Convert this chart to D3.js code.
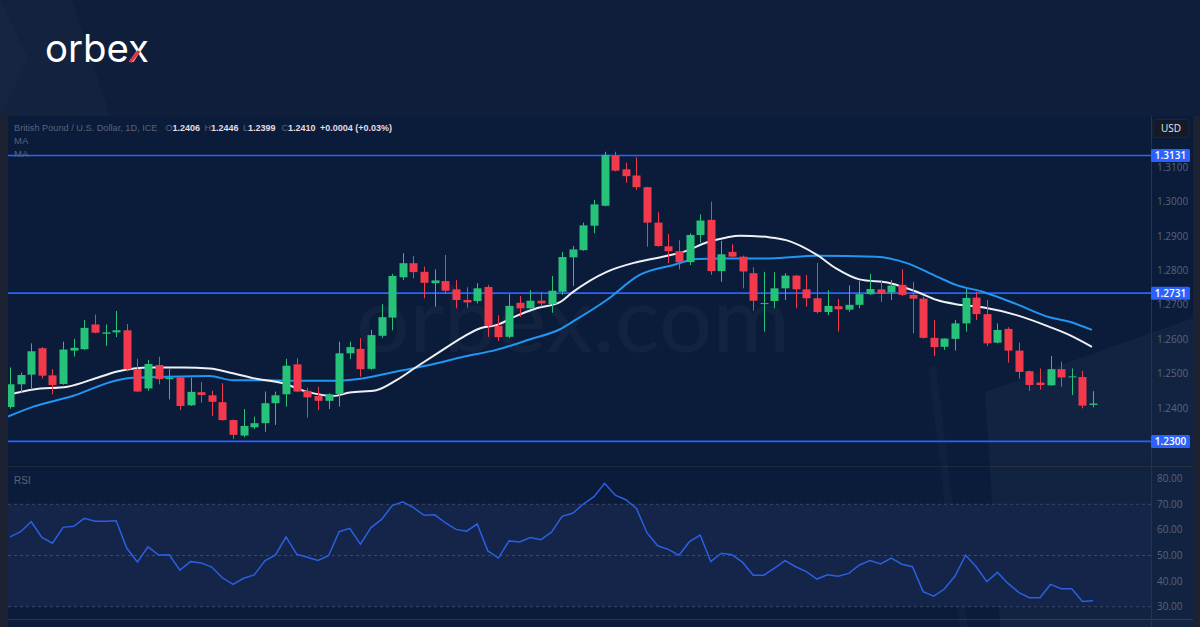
<!DOCTYPE html>
<html>
<head>
<meta charset="utf-8">
<script src="https://cdn.jsdelivr.net/npm/d3@7/dist/d3.min.js"></script>
<style>
  html, body { margin: 0; padding: 0; background: #0f1e3a; }
  svg { display: block; }
  text { font-family: "Open Sans", "DejaVu Sans", sans-serif; }
</style>
</head>
<body>
<svg id="chart" width="1200" height="627"></svg>
<script>
// ---------------- DATA ----------------
const opens  = [1.2400,1.2466,1.2494,1.2571,1.2492,1.2467,1.2564,1.2568,1.2640,1.2613,1.2617,1.2623,1.2510,1.2454,1.2522,1.2481,1.2486,1.2405,1.2443,1.2434,1.2414,1.2362,1.2317,1.2341,1.2353,1.2411,1.2437,1.2524,1.2447,1.2432,1.2418,1.2438,1.2556,1.2569,1.2511,1.2607,1.2660,1.2777,1.2818,1.2793,1.2760,1.2766,1.2742,1.2711,1.2708,1.2749,1.2636,1.2604,1.2703,1.2687,1.2709,1.2699,1.2735,1.2835,1.2856,1.2927,1.2985,1.3131,1.3091,1.3073,1.3039,1.2936,1.2867,1.2853,1.2821,1.2900,1.2944,1.2795,1.2851,1.2837,1.2789,1.2700,1.2708,1.2745,1.2782,1.2742,1.2716,1.2676,1.2693,1.2683,1.2697,1.2728,1.2742,1.2733,1.2755,1.2726,1.2715,1.2601,1.2575,1.2598,1.2643,1.2718,1.2670,1.2587,1.2627,1.2564,1.2504,1.2471,1.2463,1.2510,1.2487,1.2487,1.2406];
const highs  = [1.2515,1.2500,1.2585,1.2574,1.2510,1.2590,1.2598,1.2653,1.2669,1.2640,1.2679,1.2641,1.2540,1.2537,1.2546,1.2510,1.2488,1.2485,1.2472,1.2447,1.2469,1.2364,1.2394,1.2372,1.2445,1.2445,1.2540,1.2542,1.2456,1.2459,1.2440,1.2590,1.2590,1.2600,1.2624,1.2699,1.2787,1.2847,1.2839,1.2808,1.2800,1.2842,1.2769,1.2748,1.2760,1.2755,1.2667,1.2728,1.2723,1.2740,1.2735,1.2781,1.2851,1.2868,1.2936,1.3002,1.3142,1.3142,1.3110,1.3126,1.3040,1.2966,1.2903,1.2885,1.2905,1.2960,1.2997,1.2883,1.2873,1.2840,1.2806,1.2793,1.2792,1.2789,1.2784,1.2784,1.2819,1.2740,1.2714,1.2753,1.2766,1.2787,1.2769,1.2769,1.2800,1.2764,1.2721,1.2653,1.2600,1.2653,1.2743,1.2735,1.2711,1.2643,1.2632,1.2587,1.2506,1.2512,1.2548,1.2532,1.2512,1.2505,1.2446];
const lows   = [1.2395,1.2440,1.2451,1.2483,1.2437,1.2465,1.2547,1.2566,1.2614,1.2578,1.2603,1.2503,1.2443,1.2447,1.2466,1.2422,1.2391,1.2403,1.2413,1.2374,1.2360,1.2307,1.2312,1.2336,1.2328,1.2348,1.2401,1.2443,1.2369,1.2391,1.2394,1.2401,1.2540,1.2488,1.2508,1.2601,1.2623,1.2769,1.2774,1.2716,1.2692,1.2728,1.2687,1.2689,1.2701,1.2604,1.2592,1.2600,1.2662,1.2685,1.2692,1.2674,1.2726,1.2752,1.2854,1.2905,1.2983,1.3085,1.3052,1.3031,1.2866,1.2866,1.2818,1.2800,1.2813,1.2878,1.2784,1.2764,1.2835,1.2745,1.2680,1.2619,1.2687,1.2711,1.2687,1.2692,1.2672,1.2667,1.2619,1.2677,1.2687,1.2726,1.2706,1.2711,1.2722,1.2614,1.2599,1.2548,1.2566,1.2564,1.2619,1.2653,1.2577,1.2585,1.2529,1.2482,1.2447,1.2451,1.2462,1.2459,1.2435,1.2396,1.2399];
const closes = [1.2466,1.2493,1.2562,1.2491,1.2464,1.2567,1.2572,1.2630,1.2616,1.2617,1.2623,1.2510,1.2445,1.2525,1.2481,1.2485,1.2403,1.2444,1.2435,1.2415,1.2362,1.2319,1.2345,1.2353,1.2411,1.2434,1.2520,1.2445,1.2428,1.2418,1.2437,1.2556,1.2574,1.2510,1.2609,1.2661,1.2781,1.2818,1.2792,1.2761,1.2768,1.2738,1.2711,1.2704,1.2745,1.2636,1.2603,1.2694,1.2687,1.2709,1.2701,1.2738,1.2836,1.2858,1.2928,1.2989,1.3133,1.3087,1.3071,1.3039,1.2936,1.2868,1.2853,1.2821,1.2900,1.2942,1.2795,1.2844,1.2837,1.2794,1.2709,1.2702,1.2745,1.2782,1.2742,1.2716,1.2676,1.2694,1.2684,1.2697,1.2728,1.2743,1.2729,1.2753,1.2726,1.2715,1.2601,1.2574,1.2599,1.2643,1.2717,1.2670,1.2585,1.2624,1.2564,1.2502,1.2464,1.2464,1.2510,1.2486,1.2489,1.2404,1.2410];

// moving averages: [bar index, price]
const maWhite = [[-0.2,1.2435],[2.2,1.2451],[5.4,1.2459],[8.5,1.2488],[10.1,1.2503],[13.2,1.2515],[16.3,1.2515],[18.8,1.2512],[21,1.2498],[22.9,1.2484],[25.7,1.2469],[28,1.2444],[30.4,1.2432],[32,1.2442],[34.5,1.2449],[36.4,1.2478],[38.3,1.2517],[40.5,1.2561],[42.7,1.2604],[44.3,1.2629],[45.8,1.2638],[47.7,1.2665],[49.6,1.2687],[51.8,1.2705],[53,1.2734],[56.2,1.2793],[59,1.2821],[61.8,1.2839],[63.7,1.2854],[65.6,1.2878],[67.5,1.2893],[68.7,1.2898],[71.6,1.2893],[73.1,1.2885],[76,1.2842],[77.8,1.2803],[80,1.2771],[82.9,1.2760],[85.4,1.2735],[87.3,1.2711],[89.1,1.2699],[91.6,1.2690],[94.8,1.2667],[97.9,1.2633],[99.8,1.2609],[101.9,1.2575]];
const maBlue  = [[-0.2,1.2372],[2.2,1.2401],[5.9,1.2432],[10.1,1.2478],[11.6,1.2485],[14.8,1.2488],[18.8,1.2490],[21,1.2478],[24.2,1.2478],[27.3,1.2476],[30.4,1.2476],[33.2,1.2483],[36.4,1.2503],[39.5,1.2522],[42.7,1.2546],[45.8,1.2566],[49,1.2597],[51.8,1.2626],[53,1.2648],[56.2,1.2711],[59.3,1.2784],[62.5,1.2813],[64.7,1.2830],[67.2,1.2832],[71.6,1.2832],[76,1.2840],[81.6,1.2837],[84.4,1.2819],[87.3,1.2779],[89.1,1.2755],[91.6,1.2735],[94.8,1.2699],[97.9,1.2661],[99.8,1.2648],[101.9,1.2624]];

const rsi = [57.3,59.3,63.2,57.1,54.8,61.0,61.4,64.5,63.4,63.4,63.6,52.8,47.5,53.4,50.2,50.3,44.3,47.6,47.1,45.5,41.3,38.7,41.1,42.4,47.9,50.2,57.2,50.5,49.3,48.1,49.9,59.3,60.6,54.4,60.9,64.1,69.5,71.0,
  68.7,65.7,65.9,62.8,60.2,59.5,62.3,51.8,49.0,55.7,55.3,57.0,56.2,59.1,65.3,66.5,70.1,73.0,78.2,73.6,71.8,68.4,58.8,53.8,52.4,50.1,55.4,58.0,47.6,50.9,50.3,47.3,42.3,42.3,45.1,48.0,
  45.6,43.7,40.8,42.5,41.9,43.0,46.3,48.0,46.7,49.0,46.6,45.6,35.9,34.1,36.9,42.0,50.1,45.6,39.8,43.4,39.1,35.6,33.5,33.5,38.7,37.0,37.0,32.0,32.3];

const priceTicks = [1.24,1.25,1.26,1.27,1.28,1.29,1.30,1.31];
const levels = [1.3131, 1.2731, 1.2300];
const rsiTicks = [80,70,60,50,40,30];
const rsiBands = [70,50,30];

const titleText = "British Pound / U.S. Dollar, 1D, ICE";
const ohlcKeys = ["O","H","L","C"];
const ohlcVals = ["1.2406","1.2446","1.2399","1.2410"];
const changeText = "+0.0004 (+0.03%)";

// ---------------- LAYOUT ----------------
const W = 1200, H = 627;
const paneL = 8, paneR = 1151;
const priceTop = 117, priceBot = 462;
const rsiTop = 467, rsiBot = 619;

const GREEN = "#26c27a", RED = "#f23a4c";
const svg = d3.select("#chart");

// backgrounds
svg.append("rect").attr("width", W).attr("height", H).attr("fill", "#0f1e3a");
svg.append("polygon").attr("points", "0,0 72,0 110,116 0,116").attr("fill", "#ffffff").attr("opacity", 0.018);
svg.append("polygon").attr("points", "0,0 28,58 0,116").attr("fill", "#ffffff").attr("opacity", 0.02);
svg.append("rect").attr("x", 0).attr("y", 116).attr("width", W).attr("height", H - 116).attr("fill", "#1c2232");
svg.append("rect").attr("x", paneL).attr("y", 116).attr("width", 1193 - paneL).attr("height", H - 116).attr("fill", "#0a1c3a");
svg.append("rect").attr("x", paneL).attr("y", 463).attr("width", 1193 - paneL).attr("height", 4).attr("fill", "#0b1a33");
svg.append("line").attr("x1", paneL).attr("x2", 1193).attr("y1", 466.5).attr("y2", 466.5).attr("stroke", "#1e2a44");
svg.append("line").attr("x1", paneL).attr("x2", 1193).attr("y1", 619.5).attr("y2", 619.5).attr("stroke", "#2a3550");

// faint decorative shape lower right
svg.append("polygon").attr("points", "985,392 1193,318 1193,627 1000,627").attr("fill", "#ffffff").attr("opacity", 0.03);
svg.append("polygon").attr("points", "928,368 936,366 968,627 960,627").attr("fill", "#ffffff").attr("opacity", 0.025);

// scales
const x = d3.scaleLinear().domain([0, opens.length - 1]).range([10, 1093]);
const y = d3.scaleLinear().domain([1.24, 1.31]).range([407, 166.2]);
const yR = d3.scaleLinear().domain([30, 70]).range([606.7, 504.3]);

// clip paths
const defs = svg.append("defs");
defs.append("clipPath").attr("id", "clipP").append("rect")
  .attr("x", paneL).attr("y", priceTop).attr("width", paneR - paneL).attr("height", priceBot - priceTop);
defs.append("clipPath").attr("id", "clipR").append("rect")
  .attr("x", paneL).attr("y", rsiTop).attr("width", paneR - paneL).attr("height", rsiBot - rsiTop);

// watermark
svg.append("text").attr("x", 356).attr("y", 352)
  .attr("textLength", 434).attr("lengthAdjust", "spacingAndGlyphs")
  .style("font-family", "Lato, sans-serif").style("font-weight", 400).style("font-size", "92px")
  .attr("fill", "#ffffff").attr("opacity", 0.03).text("orbex.com");

// price pane
const gP = svg.append("g").attr("clip-path", "url(#clipP)");

// levels
gP.selectAll("line.level").data(levels).enter().append("line")
  .attr("x1", paneL).attr("x2", paneR)
  .attr("y1", d => y(d)).attr("y2", d => y(d))
  .attr("stroke", "#2962ff").attr("stroke-width", 1.6);

// moving averages
const maLine = d3.line().x(d => x(d[0])).y(d => y(d[1])).curve(d3.curveMonotoneX);
gP.append("path").datum(maBlue).attr("d", maLine).attr("fill", "none")
  .attr("stroke", "#2196f3").attr("stroke-width", 2);
gP.append("path").datum(maWhite).attr("d", maLine).attr("fill", "none")
  .attr("stroke", "#eef0f5").attr("stroke-width", 2);

// candles
const bars = d3.range(opens.length).map(i => ({ i, o: opens[i], h: highs[i], l: lows[i], c: closes[i] }));
const bw = 8;
const cg = gP.selectAll("g.candle").data(bars).enter().append("g");
cg.append("line")
  .attr("x1", d => Math.round(x(d.i)) + 0.5).attr("x2", d => Math.round(x(d.i)) + 0.5)
  .attr("y1", d => y(d.h)).attr("y2", d => y(d.l))
  .attr("stroke", d => d.c >= d.o ? GREEN : RED).attr("stroke-width", 1);
cg.append("rect")
  .attr("x", d => Math.round(x(d.i)) + 0.5 - bw / 2)
  .attr("width", bw)
  .attr("y", d => y(Math.max(d.o, d.c)))
  .attr("height", d => Math.max(1, Math.abs(y(d.o) - y(d.c))))
  .attr("fill", d => d.c >= d.o ? GREEN : RED);

// price axis
svg.append("line").attr("x1", paneR + 0.5).attr("x2", paneR + 0.5).attr("y1", 116).attr("y2", H)
  .attr("stroke", "#26314a");
svg.selectAll("text.ptick").data(priceTicks).enter().append("text")
  .attr("x", 1157).attr("y", d => y(d) + 1).attr("dy", "0.35em")
  .attr("fill", "#59637c").style("font-size", "10px")
  .text(d => d.toFixed(4));

// level labels
const lg = svg.selectAll("g.lvl").data(levels).enter().append("g");
lg.append("rect").attr("x", paneR).attr("y", d => y(d) - 6.5).attr("width", 39).attr("height", 13)
  .attr("rx", 1.5).attr("fill", "#2962ff");
lg.append("text").attr("x", paneR + 19.5).attr("y", d => y(d)).attr("dy", "0.35em")
  .attr("text-anchor", "middle").attr("fill", "#ffffff").style("font-size", "10px").style("font-weight", 600)
  .text(d => d.toFixed(4));

// USD box
svg.append("rect").attr("x", 1153).attr("y", 119.5).attr("width", 36).attr("height", 18).attr("rx", 3)
  .attr("fill", "#131b2b").attr("stroke", "#1d2638");
svg.append("text").attr("x", 1171).attr("y", 128.5).attr("dy", "0.36em").attr("text-anchor", "middle")
  .attr("fill", "#e6e8ee").style("font-size", "10px").text("USD");

// header legend
const hdrFont = "'Liberation Sans', Arial, sans-serif";
svg.append("text").attr("x", 14).attr("y", 131).style("font-family", hdrFont).style("font-size", "9.2px")
  .attr("fill", "#5a6379").text(titleText);
const keyX = [165.5, 204.5, 243, 281.5];
ohlcKeys.forEach((k, j) => {
  const t = svg.append("text").attr("x", keyX[j]).attr("y", 131).style("font-family", hdrFont).style("font-size", "9px");
  t.append("tspan").attr("fill", "#5a6379").text(k);
  t.append("tspan").attr("fill", "#e4dbe6").style("font-weight", 700).text(ohlcVals[j]);
});
svg.append("text").attr("x", 320).attr("y", 131).style("font-family", hdrFont).style("font-size", "9px")
  .style("font-weight", 700).attr("fill", "#e4dbe6").text(changeText);
svg.append("text").attr("x", 14).attr("y", 144).attr("fill", "#5a6379").style("font-family", hdrFont).style("font-size", "9.5px").text("MA");
svg.append("text").attr("x", 14).attr("y", 157).attr("fill", "#5a6379").style("font-family", hdrFont).style("font-size", "9.5px").text("MA");

// RSI pane
svg.append("rect").attr("x", paneL).attr("width", paneR - paneL)
  .attr("y", yR(70)).attr("height", yR(30) - yR(70)).attr("fill", "#15254a");
svg.selectAll("line.rb").data(rsiBands).enter().append("line")
  .attr("x1", paneL).attr("x2", paneR).attr("y1", d => yR(d)).attr("y2", d => yR(d))
  .attr("stroke", "#3b4866").attr("stroke-dasharray", "3,3").attr("stroke-width", 1);
const rsiLine = d3.line().x((d, i) => x(i)).y(d => yR(d));
svg.append("g").attr("clip-path", "url(#clipR)").append("path").datum(rsi).attr("d", rsiLine)
  .attr("fill", "none").attr("stroke", "#2a5fe0").attr("stroke-width", 1.5);
svg.append("text").attr("x", 14).attr("y", 484).attr("fill", "#5a6379").style("font-family", hdrFont).style("font-size", "10px").text("RSI");
svg.selectAll("text.rt").data(rsiTicks).enter().append("text")
  .attr("x", 1157).attr("y", d => yR(d)).attr("dy", "0.35em")
  .attr("fill", "#59637c").style("font-size", "10px")
  .text(d => d.toFixed(2));

// logo
const logo = svg.append("text").attr("x", 45).attr("y", 62)
  .style("font-family", "Inter, 'Open Sans', sans-serif").style("font-weight", 400).style("font-size", "38px")
  .attr("textLength", 104).attr("lengthAdjust", "spacingAndGlyphs")
  .attr("fill", "#ffffff").text("orbex");
try {
  const n = logo.node();
  const s = n.getStartPositionOfChar(4).x, e = n.getEndPositionOfChar(4).x;
  const w = e - s;
  const cx = s + w / 2, cy = 62 - 10.5;
  svg.append("line").attr("x1", cx + 0.5).attr("y1", cy - 0.5)
    .attr("x2", s + w * 0.1).attr("y2", 62)
    .attr("stroke", "#e8323f").attr("stroke-width", 3.2).attr("stroke-linecap", "butt");
} catch (err) {}
</script>
</body>
</html>
